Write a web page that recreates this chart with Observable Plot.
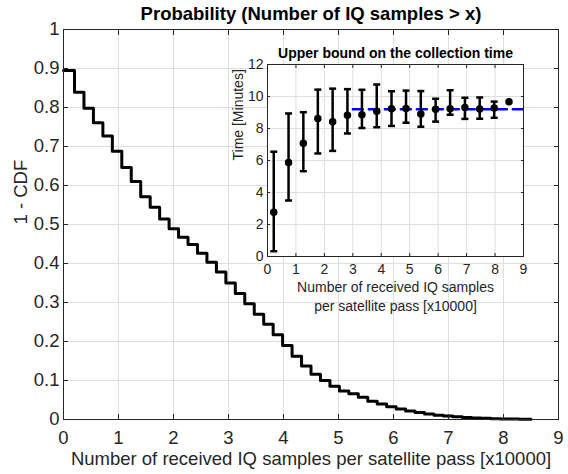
<!DOCTYPE html>
<html>
<head>
<meta charset="utf-8">
<script src="https://cdn.jsdelivr.net/npm/d3@7"></script>
<script src="https://cdn.jsdelivr.net/npm/@observablehq/plot@0.6"></script>
<style>
  html, body { margin: 0; padding: 0; background: white; }
  #wrap { position: relative; width: 568px; height: 474px; overflow: hidden; }
  #inset { position: absolute; left: 227px; top: 44px; }
</style>
</head>
<body>
<div id="wrap"><div id="main"></div><div id="inset"></div></div>
<script>
// ---------- Main chart data ----------
const mainTitle = "Probability (Number of IQ samples > x)";
const mainXLabel = "Number of received IQ samples per satellite pass [x10000]";
const mainYLabel = "1 - CDF";
const mainXTicks = [0, 1, 2, 3, 4, 5, 6, 7, 8, 9];
const mainXTickLabels = ["0", "1", "2", "3", "4", "5", "6", "7", "8", "9"];
const mainYTicks = [0, 0.1, 0.2, 0.3, 0.4, 0.5, 0.6, 0.7, 0.8, 0.9, 1];
const mainYTickLabels = ["0", "0.1", "0.2", "0.3", "0.4", "0.5", "0.6", "0.7", "0.8", "0.9", "1"];
// bin edges (x10000 samples) of the step curve
const binEdges = [0, 0.2, 0.372, 0.544, 0.716, 0.888, 1.06, 1.232, 1.404, 1.576, 1.748,
  1.92, 2.092, 2.264, 2.436, 2.608, 2.78, 2.952, 3.124, 3.296, 3.468,
  3.64, 3.812, 3.984, 4.156, 4.328, 4.5, 4.672, 4.844, 5.016, 5.188,
  5.36, 5.532, 5.704, 5.876, 6.048, 6.22, 6.392, 6.564, 6.736, 6.908,
  7.08, 7.252, 7.424, 7.596, 7.768, 7.94, 8.112, 8.284, 8.5];
// 1 - CDF level on each bin
const ccdfLevels = [0.895, 0.839, 0.798, 0.761, 0.727, 0.688, 0.646, 0.610, 0.571, 0.544,
  0.514, 0.489, 0.467, 0.449, 0.426, 0.403, 0.378, 0.350, 0.323, 0.297,
  0.270, 0.244, 0.217, 0.190, 0.162, 0.137, 0.116, 0.100, 0.085, 0.073,
  0.066, 0.057, 0.047, 0.040, 0.033, 0.027, 0.022, 0.018, 0.014, 0.011,
  0.009, 0.007, 0.005, 0.004, 0.003, 0.002, 0.0015, 0.001, 0.0005];

// ---------- Inset data ----------
const insetTitle = "Upper bound on the collection time";
const insetXLabelLines = ["Number of received IQ samples", "per satellite pass [x10000]"];
const insetYLabel = "Time [Minutes]";
const insetXTicks = [0, 1, 2, 3, 4, 5, 6, 7, 8, 9];
const insetXTickLabels = ["0", "1", "2", "3", "4", "5", "6", "7", "8", "9"];
const insetYTicks = [0, 2, 4, 6, 8, 10, 12];
const insetYTickLabels = ["0", "2", "4", "6", "8", "10", "12"];
const insetX    = [0.22, 0.74, 1.26, 1.77, 2.29, 2.81, 3.32, 3.84, 4.36, 4.87, 5.39, 5.91, 6.42, 6.94, 7.46, 7.97, 8.49];
const insetMean = [2.77, 5.88, 7.08, 8.63, 8.42, 8.83, 8.86, 9.08, 9.23, 9.25, 8.91, 9.21, 9.23, 9.32, 9.22, 9.28, 9.67];
const insetHi   = [6.55, 8.94, 9.02, 10.43, 10.49, 10.46, 10.42, 10.75, 10.33, 10.37, 10.34, 9.86, 10.39, 9.92, 9.94, 9.68, null];
const insetLo   = [0.33, 3.50, 5.33, 6.44, 6.60, 7.69, 8.03, 8.08, 8.16, 8.36, 8.11, 8.43, 8.86, 8.60, 8.61, 8.67, null];
const boundX = [3, 9];
const boundY = [9.2, 9.2];

// ---------- Build tables ----------
const cdfTable = binEdges.map((x, i) => ({x, y: ccdfLevels[Math.min(i, ccdfLevels.length - 1)]}));
const pts = insetX.map((x, i) => ({x, m: insetMean[i], lo: insetLo[i], hi: insetHi[i]}));
const errPts = pts.filter(d => d.lo != null && d.hi != null);
const boundTable = boundX.map((x, i) => ({x, y: boundY[i]}));

const FONT = "'Liberation Sans', Arial, Helvetica, sans-serif";
const AX = "#262626";
const GRID = "#dedede";
const FS = 18.5;
const fmt = (ticks, labels) => d => labels[ticks.findIndex(t => Math.abs(t - d) < 1e-9)];

const capSymbol = {draw(ctx, size) { const w = Math.sqrt(size / Math.PI); ctx.moveTo(-w, 0); ctx.lineTo(w, 0); }};

// ---------- Main plot ----------
const main = Plot.plot({
  width: 568, height: 474,
  marginLeft: 63, marginRight: 10, marginTop: 29, marginBottom: 55,
  style: {fontFamily: FONT, fontSize: FS + "px", background: "white", color: AX, overflow: "visible"},
  x: {domain: [0, 9]},
  y: {domain: [0, 1]},
  marks: [
    Plot.gridX(mainXTicks, {stroke: GRID, strokeOpacity: 1}),
    Plot.gridY(mainYTicks, {stroke: GRID, strokeOpacity: 1}),
    Plot.line(cdfTable, {x: "x", y: "y", curve: "step-after", stroke: "black", strokeWidth: 3}),
    Plot.frame({stroke: AX, strokeWidth: 1}),
    Plot.axisX({ticks: mainXTicks, anchor: "bottom", tickSize: -5, tickPadding: 16, tickFormat: fmt(mainXTicks, mainXTickLabels), label: null, fontSize: FS, fill: AX}),
    Plot.axisX({ticks: mainXTicks, anchor: "top", tickSize: -5, tickFormat: () => "", label: null}),
    Plot.axisY({ticks: mainYTicks, anchor: "left", tickSize: -5, tickPadding: 9, tickFormat: fmt(mainYTicks, mainYTickLabels), label: null, fontSize: FS, fill: AX}),
    Plot.axisY({ticks: mainYTicks, anchor: "right", tickSize: -5, tickFormat: () => "", label: null}),
    Plot.text([mainTitle], {frameAnchor: "top", dy: -15, lineAnchor: "middle", text: d => d, fontSize: FS, fontWeight: "bold", fill: "black"}),
    Plot.text([mainXLabel], {frameAnchor: "bottom", dy: 40, lineAnchor: "middle", text: d => d, fontSize: FS, fill: AX}),
    Plot.text([mainYLabel], {frameAnchor: "left", dx: -42, rotate: -90, lineAnchor: "middle", text: d => d, fontSize: FS, fill: AX})
  ]
});
document.getElementById("main").appendChild(main);

// ---------- Inset plot ----------
const inset = Plot.plot({
  width: 304, height: 272,
  marginLeft: 40, marginRight: 8, marginTop: 20, marginBottom: 60,
  style: {fontFamily: FONT, fontSize: "14px", background: "transparent", color: AX, overflow: "visible"},
  x: {domain: [0, 9]},
  y: {domain: [0, 12]},
  marks: [
    Plot.frame({fill: "white", stroke: null}),
    Plot.gridX(insetXTicks, {stroke: GRID, strokeOpacity: 1}),
    Plot.gridY(insetYTicks, {stroke: GRID, strokeOpacity: 1}),
    Plot.line(boundTable, {x: "x", y: "y", stroke: "#0000ff", strokeWidth: 2.5, strokeDasharray: "10,6"}),
    Plot.ruleX(errPts, {x: "x", y1: "lo", y2: "hi", stroke: "black", strokeWidth: 2.5}),
    Plot.dot(errPts, {x: "x", y: "lo", symbol: capSymbol, r: 3.5, stroke: "black", strokeWidth: 2.5}),
    Plot.dot(errPts, {x: "x", y: "hi", symbol: capSymbol, r: 3.5, stroke: "black", strokeWidth: 2.5}),
    Plot.dot(pts, {x: "x", y: "m", r: 3, fill: "black", stroke: "black", strokeWidth: 1.5}),
    Plot.frame({stroke: AX, strokeWidth: 1}),
    Plot.axisX({ticks: insetXTicks, anchor: "bottom", tickSize: -3, tickPadding: 11, tickFormat: fmt(insetXTicks, insetXTickLabels), label: null, fontSize: 14, fill: AX}),
    Plot.axisX({ticks: insetXTicks, anchor: "top", tickSize: -3, tickFormat: () => "", label: null}),
    Plot.axisY({ticks: insetYTicks, anchor: "left", tickSize: -3, tickPadding: 7, tickFormat: fmt(insetYTicks, insetYTickLabels), label: null, fontSize: 14, fill: AX}),
    Plot.axisY({ticks: insetYTicks, anchor: "right", tickSize: -3, tickFormat: () => "", label: null}),
    Plot.text([insetTitle], {frameAnchor: "top", dy: -11, lineAnchor: "middle", text: d => d, fontSize: 14, fontWeight: "bold", fill: "black"}),
    Plot.text([insetXLabelLines[0]], {frameAnchor: "bottom", dy: 31, lineAnchor: "middle", text: d => d, fontSize: 14, fill: AX}),
    Plot.text([insetXLabelLines[1]], {frameAnchor: "bottom", dy: 50, lineAnchor: "middle", text: d => d, fontSize: 14, fill: AX}),
    Plot.text([insetYLabel], {frameAnchor: "left", dx: -29, rotate: -90, lineAnchor: "middle", text: d => d, fontSize: 14, fill: AX})
  ]
});
document.getElementById("inset").appendChild(inset);
</script>
</body>
</html>
